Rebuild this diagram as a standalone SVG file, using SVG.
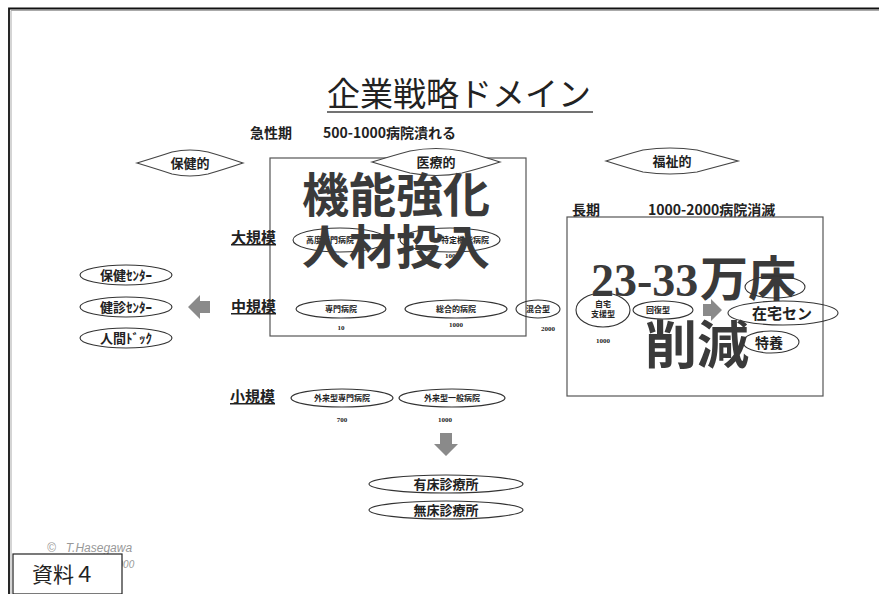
<svg xmlns="http://www.w3.org/2000/svg" width="879" height="594" viewBox="0 0 879 594">
<style>
.t{font-family:"Noto Sans CJK JP","Noto Sans CJK SC",sans-serif;fill:#222}
.b{font-weight:bold}
.big{font-weight:bold;fill:#3a3a3a}
.el{fill:none;stroke:#333;stroke-width:1.1}
.box{fill:none;stroke:#555;stroke-width:1.2}
.dia{fill:#fff;stroke:#444;stroke-width:1.2}
.arr{fill:#8a8a8a}
.sm{font-size:8px;font-weight:bold}
.num{font-family:"Liberation Serif",serif;font-size:7px;font-weight:bold;fill:#222}
.row{font-size:15px;font-weight:bold;text-decoration:underline}
</style>
<rect x="0" y="0" width="879" height="594" fill="#fff"/>
<path d="M9 594 V8.5 H879" fill="none" stroke="#111" stroke-width="1.8"/>
<path d="M11 594 V10.5 H879" fill="none" stroke="#aaa" stroke-width="1"/>

<g id="title">
<text class="t" x="327" y="106" font-size="33" fill="#333">企業戦略ドメイン</text>
<line x1="327" y1="112" x2="593" y2="112" stroke="#444" stroke-width="1.5"/>
</g>
<g id="acute">
<text class="t b" x="250" y="138" font-size="14">急性期</text>
<text class="t b" x="323" y="138" font-size="14">500-1000病院潰れる</text>
</g>

<g id="hoken">
<path class="dia" d="M137 163 Q160 156 172 152 Q190 148 208 152 Q222 156 243 163 Q222 170 208 174 Q190 178 172 174 Q160 170 137 163 Z"/>
<text class="t b" x="190" y="168" font-size="13" text-anchor="middle">保健的</text>
</g>

<g id="centerbox">
<rect class="box" x="270" y="158" width="256" height="178"/>
</g>
<g id="iryo">
<path class="dia" d="M372 162 Q395 155 410 151 Q436 146 462 151 Q478 155 500 162 Q478 169 462 173 Q436 178 410 173 Q395 169 372 162 Z"/>
<text class="t b" x="436" y="167" font-size="13" text-anchor="middle">医療的</text>
</g>

<g id="fukushi">
<path class="dia" d="M606 161 Q628 154 643 150 Q670 146 697 150 Q712 154 738 161 Q712 168 697 172 Q670 176 643 172 Q628 168 606 161 Z"/>
<text class="t b" x="672" y="166" font-size="13" text-anchor="middle">福祉的</text>
</g>

<g id="rowlabels">
<text class="t row" x="231" y="243">大規模</text>
<text class="t row" x="231" y="312">中規模</text>
<text class="t row" x="230" y="402">小規模</text>
</g>

<g id="large1">
<ellipse class="el" cx="340" cy="240" rx="47" ry="12"/>
<text class="t sm" x="330" y="243" text-anchor="middle">高度専門病院</text>
<text class="num" x="336" y="259" text-anchor="middle">80</text>
</g>
<g id="large2">
<ellipse class="el" cx="450" cy="240" rx="50" ry="12"/>
<text class="t sm" x="465" y="243" text-anchor="middle">特定機能病院</text>
<text class="num" x="452" y="258" text-anchor="middle">1000</text>
</g>

<g id="bigtext1">
<text class="t big" x="302" y="212" font-size="47">機能強化</text>
<text class="t big" x="302" y="264" font-size="47">人材投入</text>
</g>

<g id="mid1">
<ellipse class="el" cx="341" cy="309" rx="45" ry="9"/>
<text class="t sm" x="341" y="312" text-anchor="middle">専門病院</text>
<text class="num" x="341" y="330" text-anchor="middle">10</text>
</g>
<g id="mid2">
<ellipse class="el" cx="456" cy="309" rx="51" ry="9"/>
<text class="t sm" x="456" y="312" text-anchor="middle">総合的病院</text>
<text class="num" x="456" y="327" text-anchor="middle">1000</text>
</g>
<g id="mid3">
<ellipse class="el" cx="538" cy="309" rx="22" ry="9"/>
<text class="t sm" x="538" y="312" text-anchor="middle">混合型</text>
<text class="num" x="548" y="331" text-anchor="middle">2000</text>
</g>

<g id="rightbox">
<text class="t b" x="572" y="215" font-size="14">長期</text>
<text class="t b" x="648" y="215" font-size="14">1000-2000病院消滅</text>
<rect class="box" x="567" y="217" width="256" height="179"/>
</g>

<g id="mid4">
<ellipse class="el" cx="603" cy="310" rx="27" ry="17"/>
<text class="t sm" x="603" y="307" text-anchor="middle">自宅</text>
<text class="t sm" x="603" y="317" text-anchor="middle">支援型</text>
<text class="num" x="603" y="343" text-anchor="middle">1000</text>
</g>
<g id="mid5">
<ellipse class="el" cx="663" cy="310" rx="30" ry="9"/>
<text class="t sm" x="658" y="313" text-anchor="middle">回復型</text>
</g>

<g id="bigtext2">
<text x="591" y="296" font-family="Liberation Serif,serif" font-size="46" font-weight="bold" fill="#3a3a3a">23-33</text>
<text class="t big" x="700" y="296" font-size="48">万床</text>
</g>
<g id="right1">
<ellipse class="el" cx="775" cy="287" rx="30" ry="11"/>
</g>
<g id="right2">
<ellipse class="el" cx="783" cy="313" rx="55" ry="12"/>
<text class="t b" x="752" y="319" font-size="15" fill="#222">在宅セン</text>
</g>
<g id="bigtext3">
<text class="t big" x="645" y="364" font-size="52">削減</text>
</g>
<g id="right3">
<ellipse class="el" cx="771" cy="342" rx="28" ry="11"/>
<text class="t b" x="755" y="348" font-size="14" fill="#222">特養</text>
</g>

<g id="left1">
<ellipse class="el" cx="126" cy="275" rx="46" ry="10"/>
<text class="t b" x="126" y="280" font-size="13" text-anchor="middle">保健ｾﾝﾀｰ</text>
</g>
<g id="left2">
<ellipse class="el" cx="126" cy="307" rx="46" ry="10"/>
<text class="t b" x="126" y="312" font-size="13" text-anchor="middle">健診ｾﾝﾀｰ</text>
</g>
<g id="left3">
<ellipse class="el" cx="126" cy="338" rx="46" ry="10"/>
<text class="t b" x="126" y="343" font-size="13" text-anchor="middle">人間ﾄﾞｯｸ</text>
</g>

<g id="small1">
<ellipse class="el" cx="342" cy="398" rx="51" ry="9"/>
<text class="t sm" x="342" y="401" text-anchor="middle">外来型専門病院</text>
<text class="num" x="342" y="422" text-anchor="middle">700</text>
</g>
<g id="small2">
<ellipse class="el" cx="452" cy="398" rx="53" ry="9"/>
<text class="t sm" x="452" y="401" text-anchor="middle">外来型一般病院</text>
<text class="num" x="445" y="422" text-anchor="middle">1000</text>
</g>
<g id="clinic1">
<ellipse class="el" cx="446" cy="484" rx="77" ry="9"/>
<text class="t b" x="446" y="489" font-size="13" text-anchor="middle">有床診療所</text>
</g>
<g id="clinic2">
<ellipse class="el" cx="446" cy="510" rx="77" ry="9"/>
<text class="t b" x="446" y="515" font-size="13" text-anchor="middle">無床診療所</text>
</g>

<g id="connectors">
<path class="arr" d="M188 307 L200 295 V301 H210 V313 H200 V319 Z"/>
<path class="arr" d="M722 310 L711 299 V304 H703 V316 H711 V321 Z"/>
<path class="arr" d="M446 456 L434 444 H440 V433 H452 V444 H458 Z"/>
</g>

<g id="copyright">
<text x="47" y="552" font-family="Liberation Sans,sans-serif" font-size="12" font-style="italic" fill="#999" xml:space="preserve">©   T.Hasegawa</text>
<text x="112" y="568" font-family="Liberation Sans,sans-serif" font-size="10" font-style="italic" fill="#999">2000</text>
</g>
<g id="label">
<rect x="13" y="554" width="109" height="40" fill="#fff" stroke="#222" stroke-width="1.2"/>
<text class="t" x="32" y="582" font-size="21" fill="#111">資料４</text>
</g>
</svg>
